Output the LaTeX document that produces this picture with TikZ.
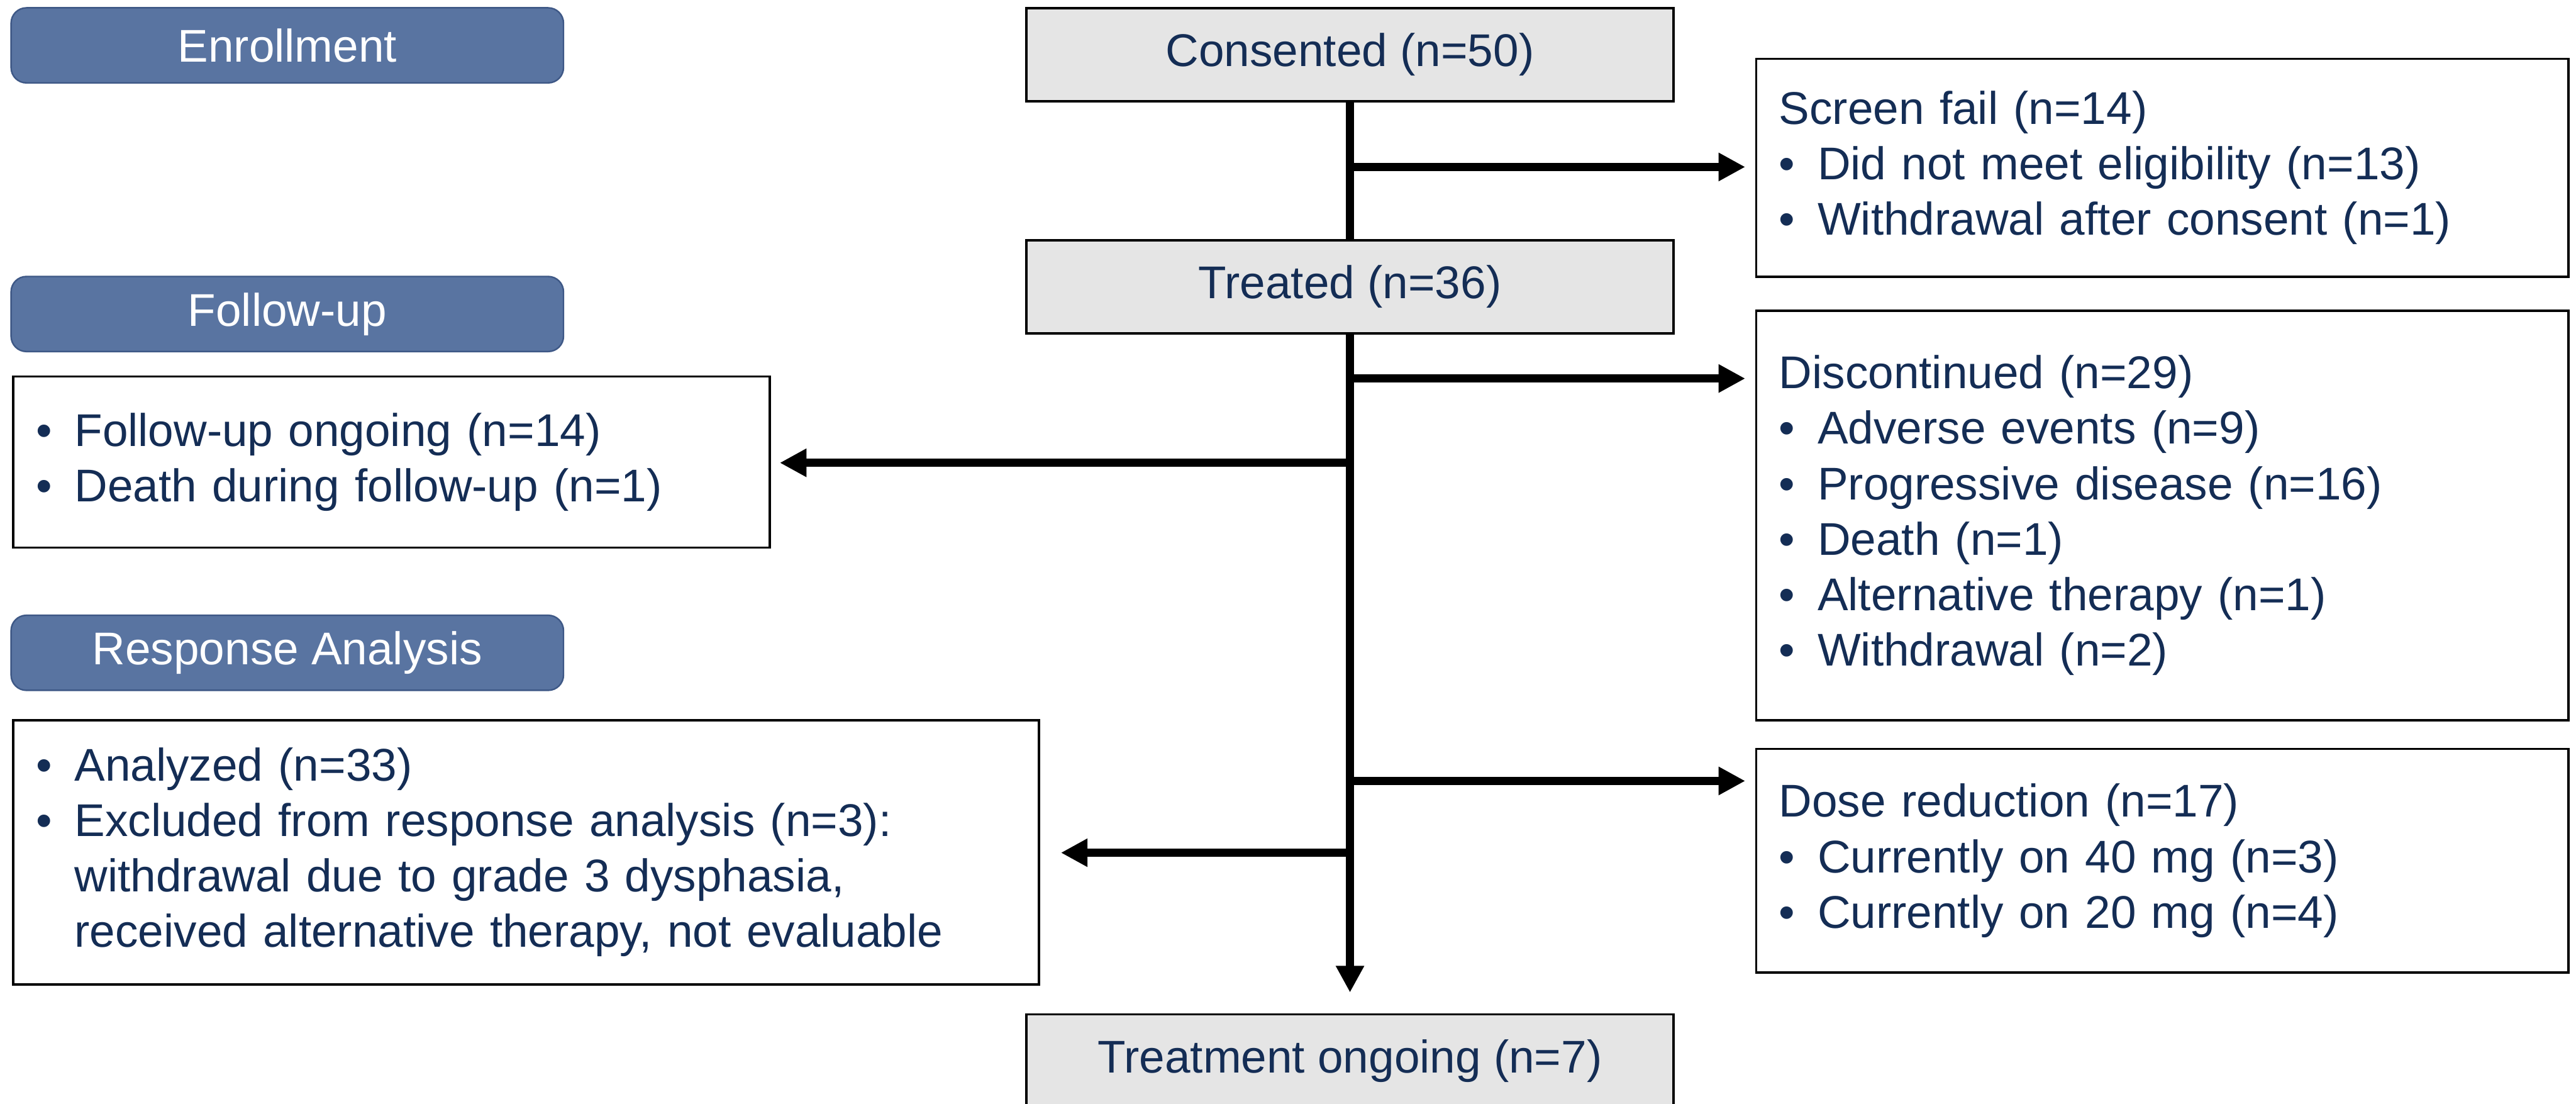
\documentclass[tikz,border=0pt]{standalone}
\usepackage{fontspec}
\setmainfont{Liberation Sans}
\usetikzlibrary{arrows.meta, positioning, calc}
\definecolor{phaseblue}{RGB}{89,116,161}
\definecolor{phaseedge}{RGB}{62,88,134}
\definecolor{navytext}{RGB}{20,45,85}
\definecolor{boxgray}{RGB}{229,229,229}
\newcommand{\bitem}[1]{\makebox[7.1mm][l]{\textbullet}#1}
\newcommand{\bcont}[1]{\hspace*{7.1mm}#1}

\begin{document}
\begin{tikzpicture}[
  font=\fontsize{24}{29}\selectfont,
  phase/.style={draw=phaseedge, line width=0.8pt, fill=phaseblue, rounded corners=8pt, text=white, minimum width=10.16cm, minimum height=1.38cm, inner sep=0pt, anchor=north west},
  stage/.style={draw, line width=1.2pt, fill=boxgray, text=navytext, minimum width=11.9cm, minimum height=1.71cm, inner sep=0pt, anchor=north},
  side/.style={draw, line width=1.2pt, fill=white, text=navytext, align=left, anchor=north west, inner xsep=0.42cm, inner ysep=0pt},
  trunk/.style={line width=4.3pt},
  flow/.style={trunk, -{Triangle[length=4.9mm, width=4.9mm]}}
]
  \useasboundingbox (0,0) rectangle (47.38,-20.29);

  % phase labels
  \node[phase] (enroll) at (0.19,-0.13) {Enrollment};
  \node[phase] (fuphase) at (0.19,-5.07) {Follow-up};
  \node[phase] (respphase) at (0.19,-11.30) {Response Analysis};

  % main flow
  \node[stage] (consent) at (24.83,-0.13) {Consented (n=50)};
  \node[stage] (treated) at (24.83,-4.40) {Treated (n=36)};
  \node[stage] (ongoing) at (24.83,-18.63) {Treatment ongoing (n=7)};

  % side boxes
  \node[side, text width=14.10cm, minimum height=4.01cm] (screen) at (32.28,-1.06) {
    Screen fail (n=14)\\
    \bitem{Did not meet eligibility (n=13)}\\
    \bitem{Withdrawal after consent (n=1)}
  };
  \node[side, text width=14.10cm, minimum height=7.53cm] (discont) at (32.28,-5.69) {
    Discontinued (n=29)\\
    \bitem{Adverse events (n=9)}\\
    \bitem{Progressive disease (n=16)}\\
    \bitem{Death (n=1)}\\
    \bitem{Alternative therapy (n=1)}\\
    \bitem{Withdrawal (n=2)}
  };
  \node[side, text width=14.10cm, minimum height=4.11cm] (dose) at (32.28,-13.75) {
    Dose reduction (n=17)\\
    \bitem{Currently on 40 mg (n=3)}\\
    \bitem{Currently on 20 mg (n=4)}
  };
  \node[side, text width=13.08cm, minimum height=3.15cm] (fubox) at (0.22,-6.90) {
    \bitem{Follow-up ongoing (n=14)}\\
    \bitem{Death during follow-up (n=1)}
  };
  \node[side, text width=18.03cm, minimum height=4.86cm] (respbox) at (0.22,-13.22) {
    \bitem{Analyzed (n=33)}\\
    \bitem{Excluded from response analysis (n=3):}\\
    \bcont{withdrawal due to grade 3 dysphasia,}\\
    \bcont{received alternative therapy, not evaluable}
  };

  % branch points on the trunk
  \coordinate (b1) at (24.83,-3.07);
  \coordinate (b2) at (24.83,-6.96);
  \coordinate (b3) at (24.83,-8.51);
  \coordinate (b4) at (24.83,-14.36);
  \coordinate (b5) at (24.83,-15.68);

  \draw[trunk] (consent) -- (treated);
  \draw[flow, shorten >=0.38cm] (treated) -- (ongoing);
  \draw[flow, shorten >=0.18cm] (b1) -- (b1 -| screen.west);
  \draw[flow, shorten >=0.18cm] (b2) -- (b2 -| discont.west);
  \draw[flow, shorten >=0.16cm] (b3) -- (b3 -| fubox.east);
  \draw[flow, shorten >=0.18cm] (b4) -- (b4 -| dose.west);
  \draw[flow, shorten >=0.38cm] (b5) -- (b5 -| respbox.east);
\end{tikzpicture}
\end{document}
